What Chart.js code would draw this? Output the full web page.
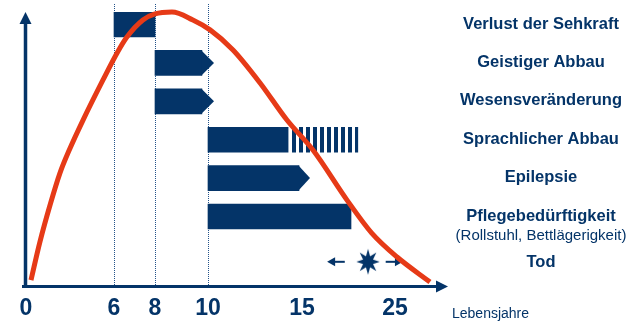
<!DOCTYPE html>
<html>
<head>
<meta charset="utf-8">
<script src="https://cdn.jsdelivr.net/npm/chart.js@4.4.0/dist/chart.umd.min.js"></script>
<style>
  html, body { margin: 0; padding: 0; background: #fff; }
  #wrap { width: 628px; height: 325px; }
</style>
</head>
<body>
<div id="wrap"><canvas id="chart"></canvas></div>
<script>
// x axis: ages with uneven spacing as in the original drawing
const tickAges = [0, 6, 8, 10, 15, 25];
const tickLabels = ['0', '6', '8', '10', '15', '25'];
const dottedAges = [6, 8, 10];

// symptom rows (top to bottom)
const rowLabels = ['Verlust der Sehkraft', 'Geistiger Abbau', 'Wesensveränderung',
  'Sprachlicher Abbau', 'Epilepsie', 'Pflegebedürftigkeit'];
const barStart = [6, 8, 8, 10, 10, 10];
const barEnd = [8, 9.77, 9.77, 14.26, 14.84, 20.27];
const arrowTip = [null, 10.32, 10.32, null, 15.86, null];
const fadeStart = 14.45;   // striped part of "Sprachlicher Abbau"
const fadeEnd = 21.0;

// death
const todRow = 6.18;
const todAge = 22.1;
const todArrowLeft = [19.6, 17.7];
const todArrowRight = [24.0, 25.75];

// disease course curve (relative severity 0..100)
const curveAges = [0.34, 0.95, 1.64, 2.32, 2.95, 3.89, 5.25, 6.15, 6.63, 7.41, 8.0, 8.64, 9.43, 10.11,
  11.33, 12.77, 14.2, 16.18, 19.84, 22.5, 25.19, 28.3];
const curveValues = [2.5, 16.4, 29.8, 41.5, 49.8, 60.7, 75.3, 85.1, 90.9, 97.1, 99.3, 100, 97.1, 93.5,
  86.2, 74.2, 60.7, 49.8, 31.6, 19.6, 10.9, 1.8];

const NAVY = '#043468';
const RED = '#e63a17';
const FONT = '"Liberation Sans", Arial, sans-serif';

// axis spacing of the drawing (not linear in years)
const knotAges = [0, 6, 8, 10, 15, 25, 30];
const knotUnits = [0, 88, 129, 182, 276, 369, 422];
function warp(age) {
  let i = 0;
  while (i < knotAges.length - 2 && age > knotAges[i + 1]) i++;
  const t = (age - knotAges[i]) / (knotAges[i + 1] - knotAges[i]);
  return knotUnits[i] + t * (knotUnits[i + 1] - knotUnits[i]);
}

// star for "Tod"
function makeStar() {
  const c = document.createElement('canvas');
  c.width = 28; c.height = 28;
  const g = c.getContext('2d');
  g.fillStyle = NAVY;
  g.beginPath();
  for (let k = 0; k < 16; k++) {
    const r = k % 2 === 0 ? 13 : 6;
    const a = -Math.PI / 2 + k * Math.PI / 8;
    const px = 14 + r * Math.cos(a) * 0.9, py = 14 + r * Math.sin(a);
    if (k === 0) g.moveTo(px, py); else g.lineTo(px, py);
  }
  g.closePath();
  g.fill();
  return c;
}

function stripes(ctx) {
  const chart = ctx.chart;
  if (!chart.scales || !chart.scales.x) return NAVY;
  const c = document.createElement('canvas');
  c.width = 7; c.height = 4;
  const g = c.getContext('2d');
  g.fillStyle = NAVY;
  g.fillRect(0, 0, 4, 4);
  const pat = chart.ctx.createPattern(c, 'repeat');
  const x0 = Math.round(chart.scales.x.getPixelForValue(warp(fadeStart)));
  pat.setTransform(new DOMMatrix().translate(x0, 0));
  return pat;
}

function arrowLine(g, x1, x2, y) {
  const dir = Math.sign(x2 - x1);
  g.beginPath();
  g.moveTo(x1, y);
  g.lineTo(x2 - dir * 6, y);
  g.stroke();
  g.beginPath();
  g.moveTo(x2, y);
  g.lineTo(x2 - dir * 8, y - 4.5);
  g.lineTo(x2 - dir * 8, y + 4.5);
  g.closePath();
  g.fill();
}

const decorations = {
  id: 'decorations',
  beforeDatasetsDraw(chart) {
    const g = chart.ctx, x = chart.scales.x, area = chart.chartArea;
    g.save();
    // dotted guide lines
    g.strokeStyle = '#23538a';
    g.lineWidth = 1;
    g.setLineDash([1, 1]);
    dottedAges.forEach(a => {
      const px = Math.round(x.getPixelForValue(warp(a))) + 0.5;
      g.beginPath();
      g.moveTo(px, area.top - 8);
      g.lineTo(px, area.bottom);
      g.stroke();
    });
    g.setLineDash([]);
    // axes with arrow heads
    g.strokeStyle = NAVY;
    g.fillStyle = NAVY;
    const ax = x.getPixelForValue(warp(0)) - 0.5;
    const ay = area.bottom - 0.5;
    g.lineWidth = 3.5;
    g.beginPath();
    g.moveTo(ax, ay + 1.5);
    g.lineTo(ax, area.top + 10);
    g.stroke();
    g.beginPath();
    g.moveTo(ax, area.top);
    g.lineTo(ax - 6, area.top + 12);
    g.lineTo(ax + 6, area.top + 12);
    g.closePath();
    g.fill();
    g.lineWidth = 3;
    g.beginPath();
    g.moveTo(area.left, ay);
    g.lineTo(area.right - 10, ay);
    g.stroke();
    g.beginPath();
    g.moveTo(area.right, ay);
    g.lineTo(area.right - 12, ay - 6);
    g.lineTo(area.right - 12, ay + 6);
    g.closePath();
    g.fill();
    // small arrows around the star
    const ty = chart.scales.y.getPixelForValue(todRow);
    g.lineWidth = 2;
    arrowLine(g, x.getPixelForValue(warp(todArrowLeft[0])), x.getPixelForValue(warp(todArrowLeft[1])), ty);
    arrowLine(g, x.getPixelForValue(warp(todArrowRight[0])), x.getPixelForValue(warp(todArrowRight[1])), ty);
    g.restore();
  },
  afterDatasetDraw(chart, args) {
    if (args.index !== 0) return;
    const g = chart.ctx, x = chart.scales.x;
    g.save();
    g.fillStyle = NAVY;
    chart.getDatasetMeta(0).data.forEach((el, i) => {
      if (arrowTip[i] == null) return;
      const tip = x.getPixelForValue(warp(arrowTip[i]));
      g.beginPath();
      g.moveTo(el.x - 0.5, el.y - el.height / 2);
      g.lineTo(tip, el.y);
      g.lineTo(el.x - 0.5, el.y + el.height / 2);
      g.closePath();
      g.fill();
    });
    g.restore();
  },
  afterDraw(chart) {
    const g = chart.ctx, y = chart.scales.y, area = chart.chartArea;
    const cx = area.right + 93;
    g.save();
    g.fillStyle = NAVY;
    g.textAlign = 'center';
    g.textBaseline = 'middle';
    g.font = 'bold 16.5px ' + FONT;
    rowLabels.forEach((t, i) => g.fillText(t, cx, y.getPixelForValue(i) - 0.5));
    g.fillText('Tod', cx, y.getPixelForValue(todRow) + 1);
    g.font = '15px ' + FONT;
    g.fillText('(Rollstuhl, Bettlägerigkeit)', cx, y.getPixelForValue(5) + 19);
    g.font = '14px ' + FONT;
    g.textAlign = 'left';
    g.fillText('Lebensjahre', area.right + 4, area.bottom + 27);
    g.restore();
  }
};

new Chart(document.getElementById('chart'), {
  data: {
    datasets: [
      {
        type: 'bar',
        indexAxis: 'y',
        data: rowLabels.map((_, i) => ({ x: [warp(barStart[i]), warp(barEnd[i])], y: i })),
        backgroundColor: NAVY,
        barThickness: 25,
        grouped: false,
        order: 2
      },
      {
        type: 'bar',
        indexAxis: 'y',
        data: [{ x: [warp(fadeStart), warp(fadeEnd)], y: 3 }],
        backgroundColor: stripes,
        barThickness: 25,
        grouped: false,
        order: 2
      },
      {
        type: 'scatter',
        data: [{ x: warp(todAge), y: todRow }],
        pointStyle: makeStar(),
        order: 1
      },
      {
        type: 'line',
        yAxisID: 'y2',
        data: curveAges.map((a, i) => ({ x: warp(a), y: curveValues[i] })),
        borderColor: RED,
        borderWidth: 5,
        pointRadius: 0,
        cubicInterpolationMode: 'monotone',
        fill: false,
        clip: false,
        order: 0
      }
    ]
  },
  options: {
    responsive: true,
    maintainAspectRatio: false,
    animation: false,
    layout: { padding: { left: 22, right: 180, top: 12, bottom: 3 } },
    plugins: { legend: { display: false }, tooltip: { enabled: false } },
    scales: {
      x: {
        type: 'linear',
        offset: false,
        min: -4,
        max: 422,
        afterBuildTicks: scale => { scale.ticks = tickAges.map(a => ({ value: warp(a) })); },
        afterFit: scale => { scale.height = 35; },
        ticks: {
          autoSkip: false,
          maxRotation: 0,
          padding: 8,
          color: NAVY,
          font: { family: FONT, size: 23, weight: 'bold' },
          callback: (v, i) => tickLabels[i]
        },
        grid: { display: false, drawTicks: false },
        border: { display: false }
      },
      y: { type: 'linear', display: false, offset: false, reverse: true, min: -0.326, max: 6.836 },
      y2: { type: 'linear', axis: 'y', display: false, min: 0, max: 100 }
    }
  },
  plugins: [decorations]
});
</script>
</body>
</html>
